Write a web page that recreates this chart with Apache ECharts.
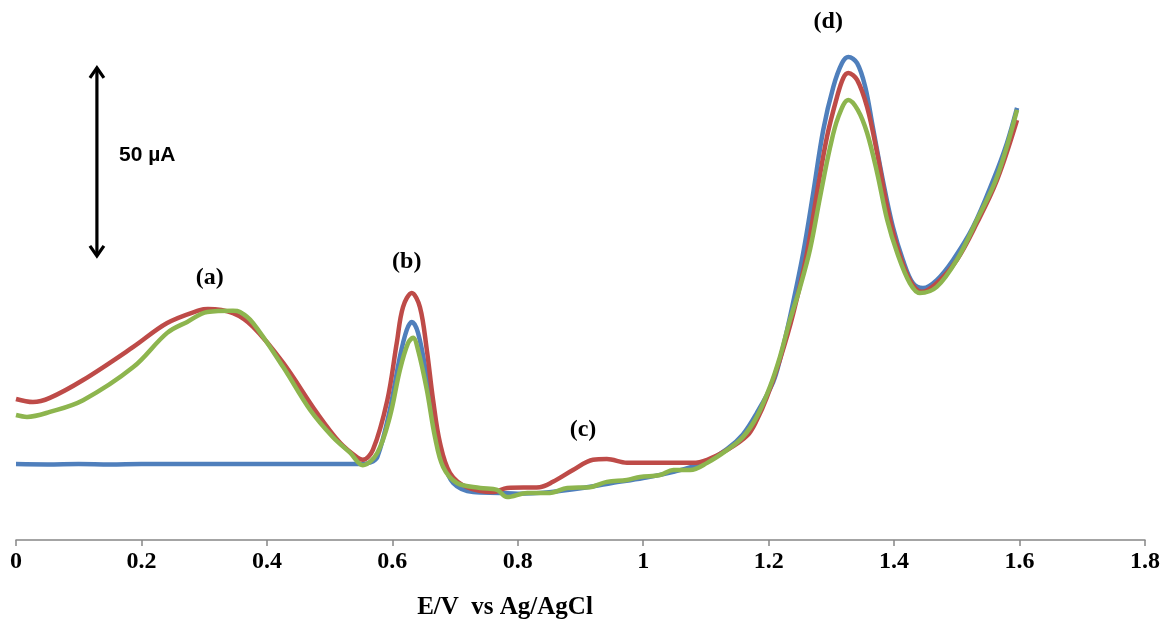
<!DOCTYPE html>
<html>
<head>
<meta charset="utf-8">
<script src="https://cdn.jsdelivr.net/npm/echarts@6/dist/echarts.min.js"></script>
<style>html,body{margin:0;padding:0;background:#fff}#chart{width:1164px;height:624px}</style>
</head>
<body>
<div id="chart"></div>
<script>
// Potential (V) vs current (µA, arbitrary baseline)
const xTicks = [0, 0.2, 0.4, 0.6, 0.8, 1, 1.2, 1.4, 1.6, 1.8];
const peakLabels = [
  { text: '(a)', E: 0.309, I: 68.9 },
  { text: '(b)', E: 0.623, I: 73.2 },
  { text: '(c)', E: 0.904, I: 29.0 },
  { text: '(d)', E: 1.295, I: 136.3 }
];
const blueSeries = [
  [0,20.0],[0.05,19.9],[0.1,20.0],[0.15,19.9],[0.2,20.0],[0.25,20.0],[0.3,20.0],[0.35,20.0],
  [0.4,20.0],[0.45,20.0],[0.5,20.0],[0.55,20.0],[0.565,20.4],[0.576,21.8],[0.596,34.2],
  [0.612,48.2],[0.623,55.3],[0.631,57.4],[0.641,54.5],[0.655,42.9],[0.668,29.7],[0.681,21.1],
  [0.697,15.0],[0.729,12.6],[0.772,12.4],[0.80,12.2],[0.85,12.6],[0.9,13.6],[0.95,15.0],
  [1.0,16.3],[1.05,18.0],[1.1,20.6],[1.134,24.0],[1.159,27.8],[1.181,33.4],[1.207,41.5],
  [1.218,47.5],[1.234,58.7],[1.255,75.5],[1.271,91.3],[1.287,107.9],[1.303,119.2],[1.317,125.5],
  [1.327,127.1],[1.341,125.5],[1.354,119.2],[1.366,108.7],[1.382,94.7],[1.398,82.4],[1.414,73.7],
  [1.430,67.6],[1.446,66.3],[1.468,68.4],[1.494,73.7],[1.526,82.4],[1.558,94.7],[1.580,104.5],[1.596,113.7]
];
const redSeries = [
  [0,37.1],[0.027,36.3],[0.054,37.4],[0.107,42.1],[0.187,50.8],[0.241,57.1],[0.293,60.5],
  [0.306,60.8],[0.346,59.7],[0.378,56.1],[0.426,46.6],[0.480,33.4],[0.517,25.5],[0.545,21.6],
  [0.553,21.1],[0.569,23.7],[0.592,36.8],[0.607,51.8],[0.617,61.3],[0.631,65.0],[0.644,61.3],
  [0.655,50.0],[0.665,36.8],[0.676,25.5],[0.692,17.6],[0.719,13.9],[0.761,12.6],[0.783,13.7],
  [0.835,13.9],[0.856,15.3],[0.888,18.4],[0.920,21.1],[0.942,21.3],[0.974,20.3],[1.022,20.3],
  [1.048,20.3],[1.079,20.3],[1.102,21.1],[1.134,23.7],[1.166,27.5],[1.181,31.5],[1.197,37.5],
  [1.218,47.5],[1.239,59.5],[1.261,75.5],[1.277,91.3],[1.293,106.1],[1.309,116.6],[1.319,121.6],[1.327,122.9],
  [1.341,121.1],[1.357,113.9],[1.373,101.8],[1.389,87.6],[1.405,77.1],[1.425,68.4],[1.444,65.3],
  [1.468,67.6],[1.500,73.7],[1.532,83.4],[1.564,94.7],[1.596,110.5]
];
const greenSeries = [
  [0,32.9],[0.0175,32.4],[0.054,33.7],[0.107,36.8],[0.187,45.5],[0.241,54.5],[0.273,57.4],
  [0.305,60.0],[0.346,60.3],[0.357,60.0],[0.378,57.1],[0.426,45.5],[0.469,34.2],[0.505,27.1],
  [0.533,22.9],[0.553,19.7],[0.576,22.9],[0.596,32.4],[0.612,44.7],[0.625,51.8],[0.633,53.2],
  [0.641,50.0],[0.655,39.5],[0.668,27.1],[0.681,19.2],[0.703,15.0],[0.740,13.7],[0.767,13.2],
  [0.783,11.3],[0.815,12.4],[0.851,12.4],[0.879,13.7],[0.915,13.9],[0.942,15.3],[0.974,15.8],
  [0.995,16.6],[1.027,17.1],[1.048,18.4],[1.075,18.4],[1.102,20.3],[1.134,23.7],[1.159,27.1],
  [1.181,32.4],[1.202,40.3],[1.218,48.2],[1.234,57.9],[1.250,66.5],[1.266,76.5],[1.282,90.3],
  [1.298,103.4],[1.311,111.3],[1.327,115.8],[1.342,113.2],[1.357,107.1],[1.373,96.6],[1.389,84.2],
  [1.405,75.5],[1.425,67.6],[1.441,65.0],[1.468,66.6],[1.500,73.7],[1.532,84.2],[1.564,95.5],[1.596,113.2]
];
const seriesNames = ['blue', 'red', 'green'];
const seriesColors = ['#4F7FBC', '#BE4B48', '#8DB54E'];

(function () {
  const chart = echarts.init(document.getElementById('chart'), null, { renderer: 'canvas' });
  const serif = '"Liberation Serif", "DejaVu Serif", serif';
  const lineSeries = [blueSeries, redSeries, greenSeries].map((d, i) => ({
    name: seriesNames[i],
    type: 'line',
    data: d,
    smooth: 0.35,
    showSymbol: false,
    symbol: 'none',
    lineStyle: { color: seriesColors[i], width: 4.5 },
    z: 2 + i,
    animation: false
  }));

  chart.setOption({
    animation: false,
    backgroundColor: '#ffffff',
    grid: { left: 16, right: 19, top: 20, bottom: 84, containLabel: false },
    xAxis: {
      type: 'value', min: 0, max: 1.8, interval: 0.2,
      axisLine: { show: true, lineStyle: { color: '#868686', width: 1.5 } },
      axisTick: { show: true, length: 6, lineStyle: { color: '#868686', width: 1.5 } },
      splitLine: { show: false },
      axisLabel: {
        margin: 10, color: '#000', fontFamily: serif, fontWeight: 'bold', fontSize: 24,
        formatter: v => { const t = xTicks.find(x => Math.abs(x - v) < 1e-6); return t === undefined ? '' : String(t); }
      }
    },
    yAxis: { type: 'value', min: 0, max: 520 / 3.8, show: false, splitLine: { show: false } },
    series: lineSeries
  });

  const px = (E, I) => chart.convertToPixel({ gridIndex: 0 }, [E, I]);
  const graphics = peakLabels.map(l => {
    const p = px(l.E, l.I);
    return {
      type: 'text', x: p[0], y: p[1],
      style: { text: l.text, fill: '#000', font: 'bold 24px ' + serif, textAlign: 'center', textVerticalAlign: 'middle' }
    };
  });
  const arrTop = px(0.129, 124.5), arrBot = px(0.129, 74.5);
  const ax = arrTop[0];
  graphics.push(
    { type: 'line', shape: { x1: ax, y1: arrTop[1] + 1, x2: ax, y2: arrBot[1] - 1 }, style: { stroke: '#000', lineWidth: 3.2 } },
    { type: 'polyline', shape: { points: [[ax - 7, arrTop[1] + 11], [ax, arrTop[1] + 1], [ax + 7, arrTop[1] + 11]] }, style: { stroke: '#000', lineWidth: 3.2, fill: null } },
    { type: 'polyline', shape: { points: [[ax - 7, arrBot[1] - 11], [ax, arrBot[1] - 1], [ax + 7, arrBot[1] - 11]] }, style: { stroke: '#000', lineWidth: 3.2, fill: null } },
    { type: 'text', x: 119, y: 155,
      style: { text: '50 µA', fill: '#000', font: 'bold 21px "Liberation Sans", Arial, sans-serif', textAlign: 'left', textVerticalAlign: 'middle' } },
    { type: 'text', x: 505, y: 608,
      style: { text: 'E/V  vs Ag/AgCl', fill: '#000', font: 'bold 25px ' + serif, textAlign: 'center', textVerticalAlign: 'middle' } }
  );
  chart.setOption({ graphic: graphics });
})();
</script>
</body>
</html>
